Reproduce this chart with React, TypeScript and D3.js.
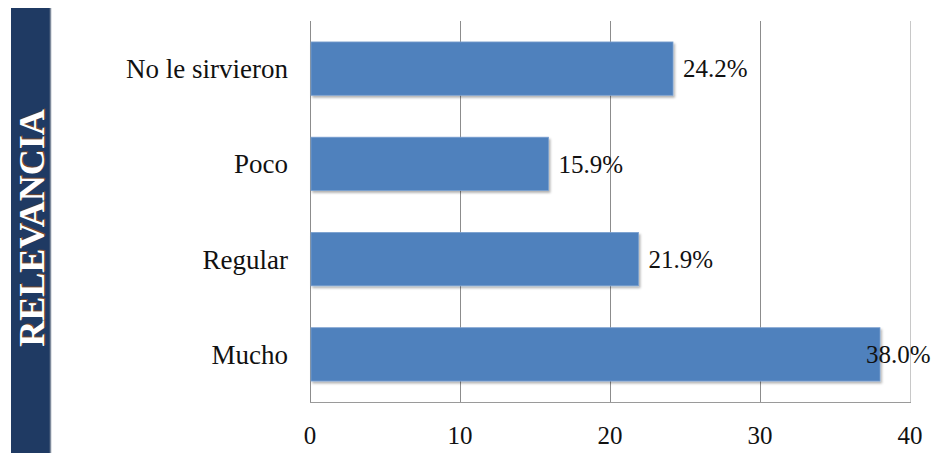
import React, { useEffect, useRef } from 'react';
import * as d3 from 'd3';

const categories = ['No le sirvieron', 'Poco', 'Regular', 'Mucho'];
const values = [24.2, 15.9, 21.9, 38.0];
const ticks = [0, 10, 20, 30, 40];
const sideTitle = 'RELEVANCIA';

const App = () => {
  const svgRef = useRef<SVGSVGElement>(null);

  useEffect(() => {
    const svg = d3.select(svgRef.current);
    svg.selectAll('*').remove();

    const H = 453;
    const plot = { left: 310, right: 910, top: 21, bottom: 402 };
    const font = '"Liberation Serif", "Times New Roman", serif';

    // shadow for the bars
    const defs = svg.append('defs');
    const f = defs.append('filter').attr('id', 'shadow')
      .attr('x', '-5%').attr('y', '-10%').attr('width', '110%').attr('height', '130%');
    f.append('feDropShadow')
      .attr('dx', 1.5).attr('dy', 2).attr('stdDeviation', 1.2)
      .attr('flood-color', '#000').attr('flood-opacity', 0.3);

    // side banner
    svg.append('rect')
      .attr('x', 11).attr('y', 8).attr('width', 39).attr('height', H - 8)
      .attr('fill', '#1f3a63');
    svg.append('line')
      .attr('x1', 50.5).attr('x2', 50.5).attr('y1', 8).attr('y2', H)
      .attr('stroke', '#7f8b9c').attr('stroke-width', 1.5);
    const title = svg.append('g').attr('transform', 'translate(31,228) rotate(-90)');
    title.append('text')
      .attr('x', 1).attr('y', 1)
      .attr('text-anchor', 'middle').attr('dy', '0.35em')
      .style('font-family', font).style('font-weight', 'bold').style('font-size', '36px')
      .attr('fill', '#7a4a2a')
      .text(sideTitle);
    title.append('text')
      .attr('text-anchor', 'middle').attr('dy', '0.35em')
      .style('font-family', font).style('font-weight', 'bold').style('font-size', '36px')
      .attr('fill', '#ffffff')
      .text(sideTitle);

    const x = d3.scaleLinear().domain([0, 40]).range([plot.left, plot.right]);
    const y = d3.scaleBand().domain(categories).range([plot.top, plot.bottom])
      .paddingInner(0.44).paddingOuter(0.22);

    // gridlines
    svg.append('g')
      .selectAll('line')
      .data(ticks)
      .enter()
      .append('line')
      .attr('x1', d => x(d) + 0.5).attr('x2', d => x(d) + 0.5)
      .attr('y1', plot.top).attr('y2', plot.bottom)
      .attr('stroke', d => (d === 40 ? '#c8c8c8' : '#8c8c8c'))
      .attr('stroke-width', 1);

    svg.append('line')
      .attr('x1', plot.left).attr('x2', plot.right + 1)
      .attr('y1', plot.bottom + 0.5).attr('y2', plot.bottom + 0.5)
      .attr('stroke', '#9a9a9a');

    // tick labels
    svg.append('g')
      .selectAll('text')
      .data(ticks)
      .enter()
      .append('text')
      .attr('x', d => x(d))
      .attr('y', 444)
      .attr('text-anchor', 'middle')
      .style('font-family', font).style('font-size', '25px')
      .attr('fill', '#111')
      .text(d => d);

    // category labels
    svg.append('g')
      .selectAll('text')
      .data(categories)
      .enter()
      .append('text')
      .attr('x', 288)
      .attr('y', d => y(d)! + y.bandwidth() / 2)
      .attr('dy', '0.35em')
      .attr('text-anchor', 'end')
      .style('font-family', font).style('font-size', '27px')
      .attr('fill', '#111')
      .text(d => d);

    // bars
    svg.append('g')
      .selectAll('rect')
      .data(categories)
      .enter()
      .append('rect')
      .attr('x', x(0) + 1)
      .attr('y', d => y(d)!)
      .attr('width', (d, i) => x(values[i]) - x(0) - 1)
      .attr('height', y.bandwidth())
      .attr('fill', '#4f81bd')
      .attr('stroke', '#7aa0cf')
      .attr('stroke-width', 0.8)
      .attr('filter', 'url(#shadow)');

    // value labels
    svg.append('g')
      .selectAll('text')
      .data(categories)
      .enter()
      .append('text')
      .attr('x', (d, i) => Math.min(x(values[i]) + 10, 866))
      .attr('y', d => y(d)! + y.bandwidth() / 2)
      .attr('dy', '0.35em')
      .style('font-family', font).style('font-size', '25px')
      .attr('fill', '#111')
      .text((d, i) => values[i].toFixed(1) + '%');
  }, []);

  return (
    <div style={{ position: 'absolute', left: 0, top: 0, background: '#fff' }}>
      <svg ref={svgRef} width={941} height={453} style={{ display: 'block' }}></svg>
    </div>
  );
};

export default App;
